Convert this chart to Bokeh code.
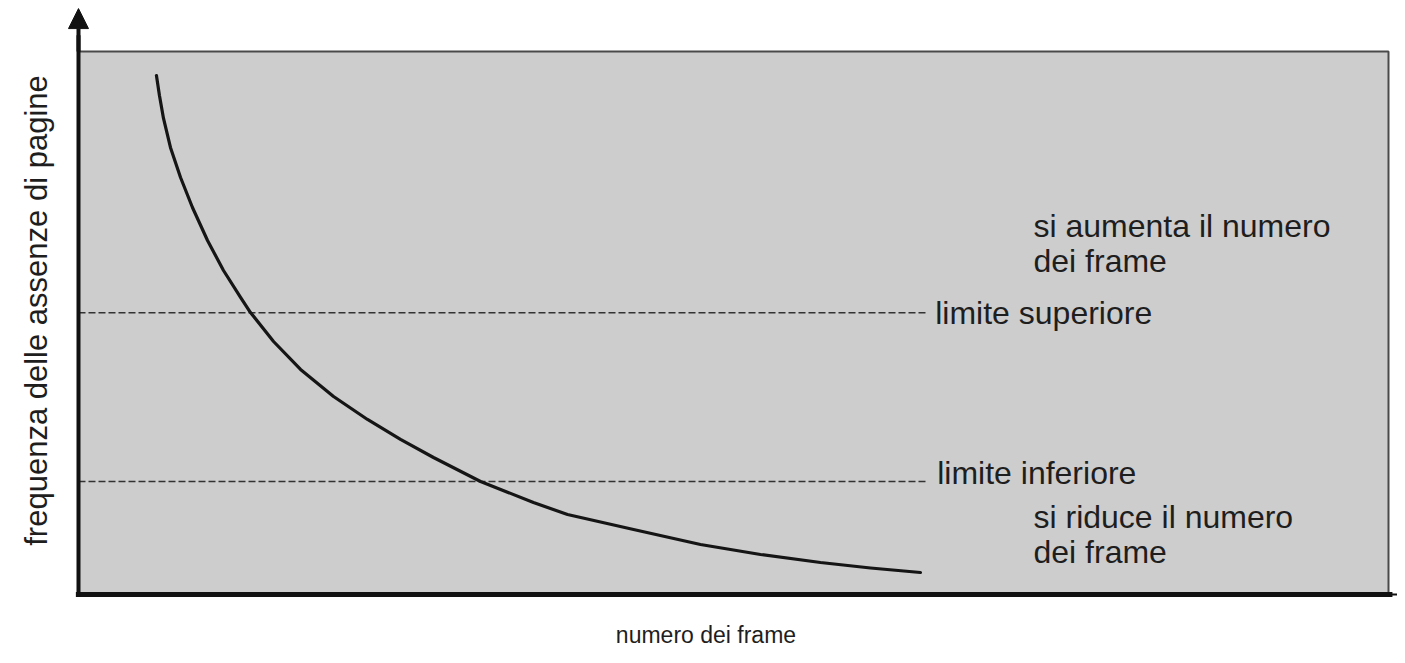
from bokeh.plotting import figure
from bokeh.models import Range1d, Arrow, NormalHead
from bokeh.core.properties import value
from bokeh.embed import file_html
from bokeh.resources import INLINE

# ---- data ----
frames = [5.95, 6.18, 6.49, 7.02, 7.79, 8.70, 9.85, 11.07, 12.37, 13.13,
          14.89, 16.95, 19.47, 22.06, 24.58, 27.10, 30.69, 34.73, 37.33,
          42.37, 47.48, 52.06, 56.64, 60.46, 64.27]
fault_rate = [95.58, 91.90, 87.66, 82.32, 76.80, 71.27, 65.19, 59.67, 54.70, 51.93,
              46.59, 41.44, 36.46, 32.23, 28.55, 25.23, 20.81, 16.94, 14.73,
              11.97, 9.21, 7.37, 5.89, 4.88, 4.05]
upper_limit = 51.9
lower_limit = 20.8
limit_end = 64.7
limit_labels = ["limite superiore", "limite inferiore"]
action_up = ["si aumenta il numero", "dei frame"]
action_down = ["si riduce il numero", "dei frame"]
x_label = "numero dei frame"
y_label = "frequenza delle assenze di pagine"

FONT = value("Liberation Sans")
TXT = "#1e1e1e"
DY = 2.03  # compensates the text baseline offset of the svg renderer

p = figure(width=1397, height=647, output_backend="svg", toolbar_location=None,
           x_range=Range1d(-5.954, 100.687), y_range=Range1d(-9.761, 109.39),
           x_axis_type=None, y_axis_type=None, min_border=0)
p.xgrid.visible = False
p.ygrid.visible = False
p.outline_line_color = None
p.background_fill_color = "white"

# gray panel
p.quad(left=[0], right=[100], bottom=[0], top=[100],
       fill_color="#cdcdcd", line_color="#4a4a4a", line_width=2)

# limit lines
p.segment(x0=[0, 0], x1=[limit_end, limit_end], y0=[upper_limit, lower_limit],
          y1=[upper_limit, lower_limit], line_color="#333333", line_width=1.6,
          line_dash="7 3")

# curve
p.line(frames, fault_rate, line_color="#151515", line_width=3.2,
       line_join="round", line_cap="round")

# axes
p.segment(x0=[-0.2], x1=[100.3], y0=[0], y1=[0], line_color="#111111", line_width=5)
p.segment(x0=[0], x1=[0], y0=[-0.4], y1=[103], line_color="#111111", line_width=4)
p.add_layout(Arrow(end=NormalHead(size=20, fill_color="#111111", line_color="#111111"),
                   x_start=0, y_start=100, x_end=0, y_end=107.9,
                   line_color="#111111", line_width=4))
p.add_layout(Arrow(end=NormalHead(size=20, fill_color="#111111", line_color="#111111"),
                   x_start=100, y_start=0, x_end=102.67, y_end=0,
                   line_color="#111111", line_width=2))

# texts
p.text(x=[65.4, 65.55], y=[49.9 + DY, 20.3 + DY], text=limit_labels, text_font=FONT,
       text_font_size="32px", text_color=TXT, text_baseline="alphabetic")
p.text(x=[72.9, 72.9], y=[65.75 + DY, 59.3 + DY], text=action_up, text_font=FONT,
       text_font_size="32px", text_color=TXT, text_baseline="alphabetic")
p.text(x=[72.9, 72.9], y=[12.15 + DY, 5.71 + DY], text=action_down, text_font=FONT,
       text_font_size="32px", text_color=TXT, text_baseline="alphabetic")
p.text(x=[47.9], y=[-7.5], text=[x_label], text_font=FONT,
       text_font_size="23px", text_color=TXT, text_align="center",
       text_baseline="alphabetic")
p.text(x=[-3.21], y=[52.3], text=[y_label], text_font=FONT, angle=1.5708,
       text_font_size="31px", text_color=TXT, text_align="center",
       text_baseline="alphabetic")

open("out.html", "w").write(file_html(p, INLINE))
